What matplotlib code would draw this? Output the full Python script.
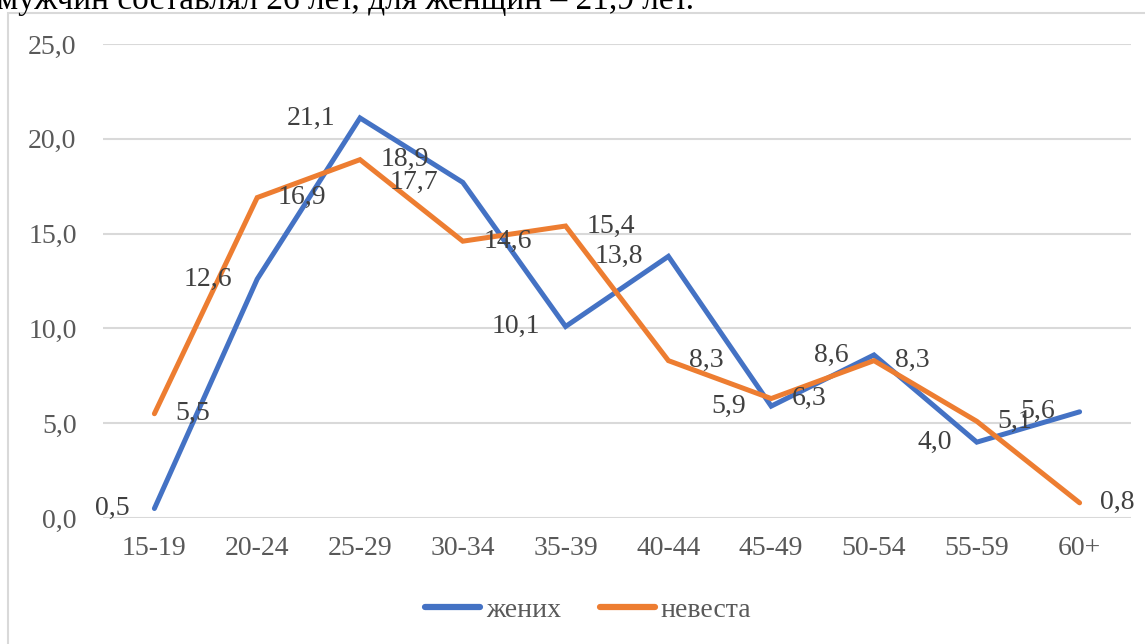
import matplotlib
matplotlib.use("Agg")
import matplotlib.pyplot as plt
from matplotlib.patches import Rectangle

categories = ["15-19", "20-24", "25-29", "30-34", "35-39", "40-44", "45-49", "50-54", "55-59", "60+"]
groom = [0.5, 12.6, 21.1, 17.7, 10.1, 13.8, 5.9, 8.6, 4.0, 5.6]
bride = [5.5, 16.9, 18.9, 14.6, 15.4, 8.3, 6.3, 8.3, 5.1, 0.8]
yticks = [0, 5, 10, 15, 20, 25]

serif = ["Liberation Serif", "DejaVu Serif"]
gray = "#595959"
FS = 20

fig = plt.figure(figsize=(11.45, 6.44), dpi=100)
fig.patches.append(Rectangle((8 / 1145, -0.1), 1.2, 1.1 - 13 / 644, transform=fig.transFigure,
                             fill=False, edgecolor="#d9d9d9", linewidth=1.5, zorder=0))
fig.text(-3 / 1145, 1 - 9 / 644, "мужчин составлял 26 лет, для женщин – 21,9 лет.",
         family=serif, fontsize=24, color="black", va="baseline", ha="left")

ax = fig.add_axes([103 / 1145, 1 - 518 / 644, 1028 / 1145, 474 / 644])
x = list(range(len(categories)))
ax.plot(x, groom, color="#4472C4", lw=3.6, solid_capstyle="round", solid_joinstyle="miter", label="жених", zorder=3)
ax.plot(x, bride, color="#ED7D31", lw=3.6, solid_capstyle="round", solid_joinstyle="miter", label="невеста", zorder=3)

fmt = lambda v: f"{v:.1f}".replace(".", ",")
for xi, v in zip(x, groom):
    ax.annotate(fmt(v), (xi, v), xytext=(-18, 0), textcoords="offset points", ha="right", va="center",
                family=serif, fontsize=FS, color="#404040", zorder=4)
for xi, v in zip(x, bride):
    ax.annotate(fmt(v), (xi, v), xytext=(15, 0), textcoords="offset points", ha="left", va="center",
                family=serif, fontsize=FS, color="#404040", zorder=4)

ax.set_xlim(-0.5, len(categories) - 0.5)
ax.set_ylim(0, 25)
ax.set_yticks(yticks)
ax.set_yticklabels([fmt(t) for t in yticks])
ax.set_xticks(x)
ax.set_xticklabels(categories)
for lab in ax.get_xticklabels() + ax.get_yticklabels():
    lab.set_family(serif)
    lab.set_fontsize(FS)
    lab.set_color(gray)
ax.tick_params(axis="both", length=0)
ax.tick_params(axis="y", pad=19)
ax.tick_params(axis="x", pad=13)
ax.grid(axis="y", color="#d9d9d9", lw=1.5)
ax.set_axisbelow(True)
for s in ax.spines.values():
    s.set_visible(False)

leg = fig.legend(loc="center", bbox_to_anchor=(588 / 1145, 1 - 610 / 644), ncol=2, frameon=False,
                 handlelength=2.0, handletextpad=0.2, columnspacing=1.4,
                 prop={"family": serif, "size": FS})
for t in leg.get_texts():
    t.set_color(gray)
for h in leg.get_lines():
    h.set_linewidth(4.5)
    h.set_solid_capstyle("round")

fig.savefig("out.png", dpi=100)
